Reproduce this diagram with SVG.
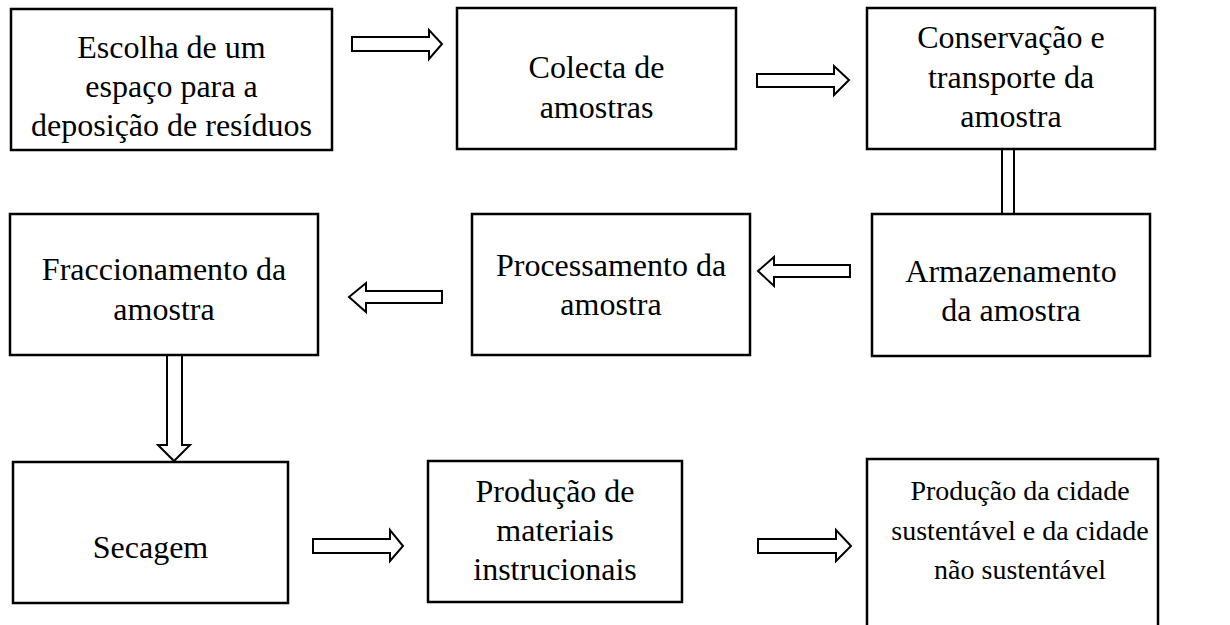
<svg xmlns="http://www.w3.org/2000/svg" width="1230" height="625" viewBox="0 0 1230 625">
<style>
.box{fill:#fff;stroke:#000;stroke-width:2.5}
.arr{fill:#fff;stroke:#000;stroke-width:2;stroke-linejoin:miter}
text{font-family:"Liberation Serif","Times New Roman",serif;font-size:32px;fill:#000;text-anchor:middle}
.sm{font-size:28px}
</style>
<rect width="1230" height="625" fill="#fff"/>
<g id="connectors">
<path class="arr" d="M352,37 H429 V30 L442,44 L429,59 V51 H352 Z"/>
<path class="arr" d="M757,74 H834 V66 L849,80 L834,95 V87 H757 Z"/>
<rect class="arr" x="1002" y="149" width="12" height="65"/>
<path class="arr" d="M850,265 H774 V257 L758,271 L774,286 V277 H850 Z"/>
<path class="arr" d="M442,291 H366 V283 L349,297 L366,312 V303 H442 Z"/>
<path class="arr" d="M167,355 V445 H158 L174,461 L190,445 H182 V355 Z"/>
<path class="arr" d="M313,539 H390 V530 L403,546 L390,561 V553 H313 Z"/>
<path class="arr" d="M758,539 H836 V530 L851,546 L836,561 V553 H758 Z"/>
</g>
<g id="n1"><rect class="box" x="11" y="9" width="321" height="141"/>
<text x="171.5" y="58">Escolha de um</text><text x="171.5" y="97">espaço para a</text><text x="171.5" y="136">deposição de resíduos</text></g>
<g id="n2"><rect class="box" x="457" y="8" width="279" height="141"/>
<text x="596.5" y="78">Colecta de</text><text x="596.5" y="118">amostras</text></g>
<g id="n3"><rect class="box" x="867" y="8" width="288" height="141"/>
<text x="1011" y="48">Conservação e</text><text x="1011" y="88">transporte da</text><text x="1011" y="127">amostra</text></g>
<g id="n4"><rect class="box" x="872" y="214" width="278" height="142"/>
<text x="1011" y="282">Armazenamento</text><text x="1011" y="321">da amostra</text></g>
<g id="n5"><rect class="box" x="472" y="214" width="278" height="141"/>
<text x="611" y="276">Processamento da</text><text x="611" y="315">amostra</text></g>
<g id="n6"><rect class="box" x="10" y="214" width="308" height="141"/>
<text x="164" y="280">Fraccionamento da</text><text x="164" y="320">amostra</text></g>
<g id="n7"><rect class="box" x="13" y="462" width="275" height="141"/>
<text x="150.5" y="558">Secagem</text></g>
<g id="n8"><rect class="box" x="428" y="461" width="254" height="141"/>
<text x="555" y="502">Produção de</text><text x="555" y="541">materiais</text><text x="555" y="580">instrucionais</text></g>
<g id="n9"><path class="box" d="M867,640 V459 H1158 V640"/>
<text class="sm" x="1020" y="500">Produção da cidade</text><text class="sm" x="1020" y="540">sustentável e da cidade</text><text class="sm" x="1020" y="579">não sustentável</text></g>
</svg>
